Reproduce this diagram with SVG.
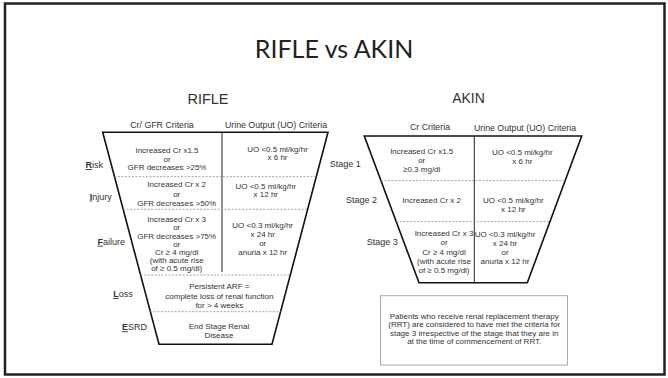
<svg xmlns="http://www.w3.org/2000/svg" width="668" height="378" viewBox="0 0 668 378">
<style>
.t{font-family:"Liberation Sans",Arial,sans-serif;fill:#333;text-anchor:middle}
.s{font-size:8px}
.h{font-size:8.8px}
.lab{font-family:"Liberation Sans",Arial,sans-serif;fill:#333;font-size:9px;text-anchor:end}
.ul{font-weight:bold;text-decoration:underline}
.trap{fill:none;stroke:#111;stroke-width:1.6;stroke-linejoin:miter}
.div{stroke:#222;stroke-width:1}
.dash{stroke:#999;stroke-width:0.9;stroke-dasharray:2 1.5}
</style>
<rect x="0" y="0" width="668" height="378" fill="#fff"/>
<rect x="5" y="3.5" width="659.5" height="371" fill="none" stroke="#222" stroke-width="2.5"/>
<text x="334" y="58.3" font-family="Lato,'Open Sans',sans-serif" font-size="25" fill="#222" text-anchor="middle">RIFLE vs AKIN</text>

<g id="rifle">
<text class="t" x="208" y="104" font-size="14.5" fill="#222">RIFLE</text>
<text class="t h" x="162" y="128">Cr/ GFR Criteria</text>
<text class="t h" x="276" y="128">Urine Output (UO) Criteria</text>
<polygon class="trap" points="102.7,132.3 328,132.3 272,344.3 159,344.3"/>
<line class="div" x1="222" y1="132.3" x2="222" y2="272"/>
<line class="dash" x1="114.5" y1="176.7" x2="316.3" y2="176.7"/>
<line class="dash" x1="123.1" y1="209.3" x2="307.7" y2="209.3"/>
<line class="dash" x1="140.6" y1="275" x2="290.3" y2="275"/>
<line class="dash" x1="150.3" y1="311.7" x2="280.6" y2="311.7"/>
</g>

<g id="rifle-risk">
<text class="lab" x="103" y="168"><tspan class="ul">R</tspan>isk</text>
<text class="t s" x="167" y="153">Increased Cr x1.5</text>
<text class="t s" x="167" y="161.6">or</text>
<text class="t s" x="167" y="170.2">GFR decreases &gt;25%</text>
<text class="t s" x="277.5" y="152">UO &lt;0.5 ml/kg/hr</text>
<text class="t s" x="277.5" y="160">x 6 hr</text>
</g>
<g id="rifle-injury">
<text class="lab" x="111.7" y="199.5"><tspan class="ul">I</tspan>njury</text>
<text class="t s" x="176.7" y="187">Increased Cr x 2</text>
<text class="t s" x="176.7" y="196.5">or</text>
<text class="t s" x="176.7" y="206">GFR decreases &gt;50%</text>
<text class="t s" x="265.8" y="189">UO &lt;0.5 ml/kg/hr</text>
<text class="t s" x="265.8" y="196.5">x 12 hr</text>
</g>
<g id="rifle-failure">
<text class="lab" x="125" y="244.7"><tspan class="ul">F</tspan>ailure</text>
<text class="t s" x="176.7" y="222.2">Increased Cr x 3</text>
<text class="t s" x="176.7" y="230.4">or</text>
<text class="t s" x="176.7" y="238.5">GFR decreases &gt;75%</text>
<text class="t s" x="176.7" y="246.7">or</text>
<text class="t s" x="176.7" y="254.9">Cr ≥ 4 mg/dl</text>
<text class="t s" x="176.7" y="263">(with acute rise</text>
<text class="t s" x="176.7" y="271.2">of ≥ 0.5 mg/dl)</text>
<text class="t s" x="262.7" y="228">UO &lt;0.3 ml/kg/hr</text>
<text class="t s" x="262.7" y="237">x 24 hr</text>
<text class="t s" x="262.7" y="246">or</text>
<text class="t s" x="262.7" y="255">anuria x 12 hr</text>
</g>
<g id="rifle-loss">
<text class="lab" x="132.7" y="297"><tspan class="ul">L</tspan>oss</text>
<text class="t s" x="219.3" y="289">Persistent ARF =</text>
<text class="t s" x="219.3" y="298.6">complete loss of renal function</text>
<text class="t s" x="219.3" y="308.2">for &gt; 4 weeks</text>
</g>
<g id="rifle-esrd">
<text class="lab" x="147" y="330.3"><tspan class="ul">E</tspan>SRD</text>
<text class="t s" x="219" y="329">End Stage Renal</text>
<text class="t s" x="219" y="338">Disease</text>
</g>

<g id="akin">
<text class="t" x="468.5" y="103" font-size="14" fill="#222">AKIN</text>
<text class="t h" x="430" y="130">Cr Criteria</text>
<text class="t h" x="525" y="131">Urine Output (UO) Criteria</text>
<polygon class="trap" points="364.3,136 581.7,136 527.3,282.7 419,282.7"/>
<line class="div" x1="474.3" y1="136" x2="474.3" y2="282.7"/>
<line class="dash" x1="381" y1="180.7" x2="565.1" y2="180.7"/>
<line class="dash" x1="396.3" y1="221.7" x2="549.9" y2="221.7"/>
</g>
<g id="akin-stage1">
<text class="lab" x="360.7" y="167.3">Stage 1</text>
<text class="t s" x="421.7" y="154">Increased Cr x1.5</text>
<text class="t s" x="421.7" y="163">or</text>
<text class="t s" x="421.7" y="172">≥0.3 mg/dl</text>
<text class="t s" x="522.3" y="154.6">UO &lt;0.5 ml/kg/hr</text>
<text class="t s" x="522.3" y="163.5">x 6 hr</text>
</g>
<g id="akin-stage2">
<text class="lab" x="377" y="203">Stage 2</text>
<text class="t s" x="431.7" y="203">Increased Cr x 2</text>
<text class="t s" x="513.3" y="203">UO &lt;0.5 ml/kg/hr</text>
<text class="t s" x="513.3" y="212">x 12 hr</text>
</g>
<g id="akin-stage3">
<text class="lab" x="397.7" y="245">Stage 3</text>
<text class="t s" x="444" y="236.2">Increased Cr x 3</text>
<text class="t s" x="444" y="245.4">or</text>
<text class="t s" x="444" y="254.6">Cr ≥ 4 mg/dl</text>
<text class="t s" x="444" y="263.8">(with acute rise</text>
<text class="t s" x="444" y="273">of ≥ 0.5 mg/dl)</text>
<text class="t s" x="505" y="237">UO &lt;0.3 ml/kg/hr</text>
<text class="t s" x="505" y="246">x 24 hr</text>
<text class="t s" x="505" y="255">or</text>
<text class="t s" x="505" y="264">anuria x 12 hr</text>
</g>

<g id="note">
<rect x="380.5" y="295.7" width="187" height="69.3" fill="#fff" stroke="#aaa" stroke-width="1"/>
<text class="t s" x="474.2" y="319">Patients who receive renal replacement therapy</text>
<text class="t s" x="474.2" y="327.4">(RRT) are considered to have met the criteria for</text>
<text class="t s" x="474.2" y="335.8">stage 3 irrespective of the stage that they are in</text>
<text class="t s" x="474.2" y="344.2">at the time of commencement of RRT.</text>
</g>
<g id="connectors"></g>
</svg>
